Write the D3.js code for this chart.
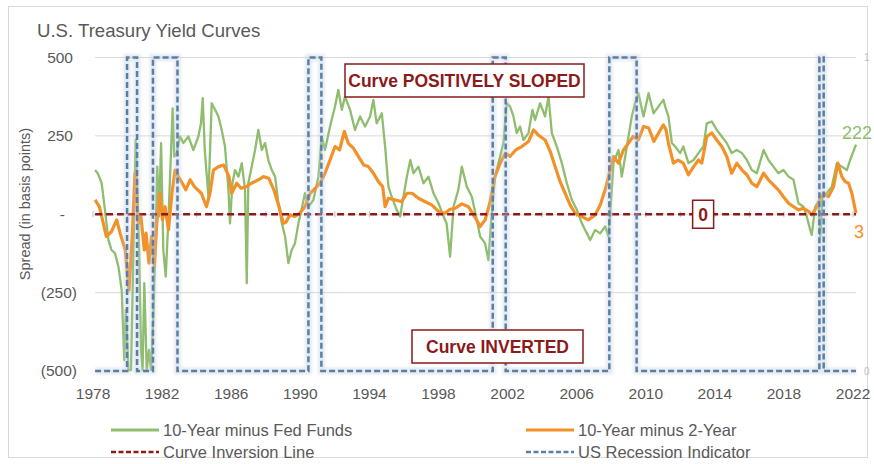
<!DOCTYPE html>
<html>
<head>
<meta charset="utf-8">
<script src="https://cdn.jsdelivr.net/npm/d3@7"></script>
<style>
body { margin: 0; background: #fff; }
text { font-family: "Liberation Sans", Arial, sans-serif; }
</style>
</head>
<body>
<div id="chart"></div>
<script>
// 10-Year minus Fed Funds, [year, bp]
var tenMinusFed = [
  [1978.15,141],[1978.3,131],[1978.53,99],[1978.72,14],[1978.92,-82],[1979.1,-114],[1979.3,-124],[1979.5,-167],
  [1979.69,-242],[1979.84,-465],[1979.93,-305],[1980.08,-497],[1980.23,-497],[1980.37,-114],[1980.5,237],[1980.58,99],
  [1980.7,-114],[1980.81,-433],[1980.9,-497],[1981.0,-220],[1981.14,-497],[1981.27,-433],[1981.39,-497],[1981.52,-327],
  [1981.62,-135],[1981.75,152],[1981.85,-7],[1981.97,227],[1982.1,-114],[1982.24,-199],[1982.4,-7],[1982.55,205],
  [1982.64,338],[1982.73,184],[1982.87,195],[1983.07,248],[1983.26,227],[1983.55,248],[1983.84,205],[1984.13,248],
  [1984.28,290],[1984.38,370],[1984.5,205],[1984.71,56],[1984.9,354],[1985.1,333],[1985.29,312],[1985.48,269],
  [1985.67,216],[1985.87,78],[1985.96,-29],[1986.1,99],[1986.25,141],[1986.45,120],[1986.64,163],[1986.83,78],
  [1986.93,-220],[1987.02,99],[1987.22,152],[1987.41,205],[1987.6,269],[1987.8,205],[1987.99,227],[1988.18,173],
  [1988.38,141],[1988.57,120],[1988.76,35],[1988.96,-29],[1989.15,-71],[1989.34,-156],[1989.53,-114],[1989.72,-93],
  [1989.92,-29],[1990.1,14],[1990.3,67],[1990.5,24],[1990.79,46],[1991.08,120],[1991.27,248],[1991.46,205],
  [1991.75,280],[1992.04,344],[1992.23,397],[1992.43,333],[1992.62,376],[1992.91,333],[1993.2,269],[1993.49,312],
  [1993.78,280],[1994.07,312],[1994.26,365],[1994.45,290],[1994.75,322],[1994.94,216],[1995.13,88],[1995.32,56],
  [1995.61,14],[1995.81,-7],[1996.0,56],[1996.2,120],[1996.4,173],[1996.58,131],[1996.87,152],[1997.16,99],
  [1997.45,120],[1997.74,67],[1998.03,35],[1998.32,-7],[1998.5,-29],[1998.7,-135],[1998.9,24],[1999.18,78],
  [1999.38,152],[1999.67,88],[1999.96,56],[2000.25,-18],[2000.44,-71],[2000.73,-93],[2000.92,-146],[2001.1,-7],
  [2001.3,120],[2001.5,163],[2001.79,227],[2001.98,354],[2002.17,344],[2002.37,312],[2002.56,259],[2002.75,280],
  [2002.95,237],[2003.24,259],[2003.47,333],[2003.62,301],[2003.91,354],[2004.2,312],[2004.4,376],[2004.59,259],
  [2004.88,216],[2005.17,163],[2005.46,99],[2005.75,46],[2006.04,14],[2006.33,-29],[2006.62,-61],[2006.81,-82],
  [2007.1,-50],[2007.39,-61],[2007.68,-39],[2007.87,-71],[2008.02,46],[2008.16,163],[2008.45,205],[2008.64,120],
  [2008.84,184],[2009.03,248],[2009.22,312],[2009.41,354],[2009.6,386],[2009.9,312],[2010.19,386],[2010.48,322],
  [2010.77,344],[2011.05,365],[2011.15,344],[2011.34,312],[2011.54,227],[2011.73,216],[2012.02,195],[2012.2,216],
  [2012.5,163],[2012.8,173],[2013.08,195],[2013.37,216],[2013.56,290],[2013.85,296],[2014.14,269],[2014.43,248],
  [2014.72,227],[2015.0,195],[2015.3,205],[2015.6,195],[2015.88,173],[2016.17,141],[2016.46,131],[2016.85,205],
  [2017.13,173],[2017.42,152],[2017.7,131],[2018.0,141],[2018.3,120],[2018.58,110],[2018.87,35],[2019.16,24],
  [2019.35,-7],[2019.55,-50],[2019.64,-66],[2019.84,24],[2020.03,40],[2020.13,-71],[2020.26,56],[2020.5,67],
  [2020.8,88],[2021.09,163],[2021.38,152],[2021.67,141],[2021.86,173],[2022.2,222]
];

// 10-Year minus 2-Year, [year, bp]
var tenMinusTwo = [
  [1978.15,46],[1978.4,24],[1978.8,-71],[1979.1,-55],[1979.4,-18],[1979.6,-61],[1979.9,-114],[1980.11,-242],
  [1980.3,-71],[1980.46,131],[1980.55,67],[1980.65,-29],[1980.8,-7],[1981.0,-114],[1981.1,-60],[1981.27,-156],
  [1981.42,-71],[1981.58,-167],[1981.72,-29],[1981.9,67],[1982.05,-18],[1982.2,24],[1982.4,-50],[1982.6,67],
  [1982.78,141],[1982.97,120],[1983.2,99],[1983.4,78],[1983.65,110],[1983.9,88],[1984.3,67],[1984.6,24],
  [1984.8,67],[1985.0,141],[1985.3,152],[1985.6,157],[1985.9,120],[1986.06,67],[1986.35,99],[1986.6,83],
  [1986.9,88],[1987.2,99],[1987.6,110],[1987.9,120],[1988.2,115],[1988.5,78],[1988.8,24],[1989.05,-29],
  [1989.2,-25],[1989.44,-2],[1989.7,-7],[1990.0,3],[1990.3,24],[1990.6,67],[1990.9,83],[1991.17,99],
  [1991.46,131],[1991.75,173],[1992.04,216],[1992.3,205],[1992.58,264],[1992.8,227],[1993.1,211],[1993.4,184],
  [1993.7,157],[1993.97,152],[1994.26,131],[1994.55,104],[1994.8,88],[1994.94,24],[1995.13,51],[1995.5,46],
  [1995.9,40],[1996.2,67],[1996.5,67],[1996.87,51],[1997.26,40],[1997.64,30],[1998.03,9],[1998.4,3],
  [1998.7,16],[1999.0,19],[1999.38,33],[1999.76,24],[2000.15,-10],[2000.44,-39],[2000.73,-18],[2001.0,35],
  [2001.3,120],[2001.6,163],[2001.9,195],[2002.17,184],[2002.5,205],[2002.85,216],[2003.24,232],[2003.53,269],
  [2003.8,253],[2004.2,237],[2004.5,200],[2004.78,152],[2005.07,104],[2005.36,67],[2005.65,30],[2005.94,3],
  [2006.3,-7],[2006.7,-18],[2007.1,-2],[2007.4,30],[2007.68,78],[2007.97,141],[2008.16,184],[2008.45,163],
  [2008.74,205],[2009.03,227],[2009.3,248],[2009.6,237],[2009.9,280],[2010.2,275],[2010.5,232],[2010.77,259],
  [2011.05,285],[2011.2,270],[2011.34,227],[2011.63,163],[2011.9,173],[2012.2,163],[2012.5,126],[2012.8,152],
  [2013.08,173],[2013.27,163],[2013.56,248],[2013.85,259],[2014.14,237],[2014.43,216],[2014.72,184],[2015.0,131],
  [2015.3,163],[2015.6,141],[2015.88,126],[2016.17,99],[2016.46,88],[2016.85,131],[2017.13,110],[2017.42,94],
  [2017.7,78],[2018.0,56],[2018.3,35],[2018.58,24],[2018.87,14],[2019.16,19],[2019.45,9],[2019.64,-2],
  [2019.93,24],[2020.13,51],[2020.32,67],[2020.6,56],[2020.9,88],[2021.15,163],[2021.38,120],[2021.57,104],
  [2021.77,99],[2021.96,67],[2022.2,3]
];

// NBER recessions (start, end) -> US Recession Indicator = 1
var recessions = [[1980.0,1980.58],[1981.5,1982.92],[1990.5,1991.25],[2001.17,2001.92],[2007.92,2009.5],[2020.08,2020.33]];

var yTicks = [-500, -250, 0, 250, 500];
var xTickYears = [1978,1982,1986,1990,1994,1998,2002,2006,2010,2014,2018,2022];
var title = "U.S. Treasury Yield Curves";
var yTitle = "Spread (in basis points)";
var legendItems = ["10-Year minus Fed Funds", "10-Year minus 2-Year", "Curve Inversion Line", "US Recession Indicator"];

var w = 874, h = 464;
var green = "#8fbd6e", orange = "#f39129", darkRed = "#8b1a1a", recBlue = "#5b7ea6", grid = "#d9d9d9";
var first = 1978.15, last = 2022.2;

var svg = d3.select("#chart").append("svg").attr("width", w).attr("height", h);

var defs = svg.append("defs");
defs.append("filter").attr("id", "glow").attr("x", "-50%").attr("y", "-5%").attr("width", "200%").attr("height", "110%")
  .append("feGaussianBlur").attr("stdDeviation", 1.6);

// chart border
svg.append("rect").attr("x", 8.5).attr("y", 6.5).attr("width", 859).attr("height", 451)
  .attr("fill", "#fff").attr("stroke", grid);

var x = d3.scaleLinear().domain([1978, 2022.2]).range([92.5, 856]);
var y = d3.scaleLinear().domain([-500, 500]).range([371, 57.5]);
var yRec = d3.scaleLinear().domain([0, 1]).range([371, 57.5]);

svg.append("text").attr("x", 37).attr("y", 37).attr("font-size", 18.6).attr("fill", "#595959").text(title);

// gridlines
svg.append("g").selectAll("line").data([-250, 250, 500]).enter().append("line")
  .attr("x1", x(first)).attr("x2", x(last))
  .attr("y1", d => y(d)).attr("y2", d => y(d))
  .attr("stroke", grid).attr("stroke-width", 1);

// horizontal axis at zero with tick marks
var zeroAxis = svg.append("g").attr("transform", "translate(0," + (y(0) - 3) + ")")
  .call(d3.axisBottom(x).tickValues(d3.range(1978, 2023, 2)).tickFormat("").tickSize(6).tickSizeOuter(0));
zeroAxis.select(".domain").attr("transform", "translate(0,3)").attr("stroke", grid);
zeroAxis.selectAll(".tick line").attr("stroke", "#bfbfbf");

// y axis labels
var fmt = function(d) { return d === 0 ? "-" : d < 0 ? "(" + d3.format(",")(-d) + ")" : d3.format(",")(d); };
var yAxis = svg.append("g").attr("transform", "translate(77,0)")
  .call(d3.axisLeft(y).tickValues(yTicks).tickFormat(fmt).tickSize(0).tickPadding(0));
yAxis.select(".domain").remove();
yAxis.selectAll("text").attr("font-size", 15.5).attr("fill", "#595959")
  .attr("font-family", '"Liberation Sans", Arial, sans-serif')
  .attr("x", d => d > 0 ? -4 : d === 0 ? -12 : 0);

// right axis (recession indicator)
var rAxis = svg.append("g").attr("transform", "translate(864,0)")
  .call(d3.axisRight(yRec).tickValues([0, 1]).tickFormat(d3.format("d")).tickSize(0).tickPadding(0));
rAxis.select(".domain").remove();
rAxis.selectAll("text").attr("font-size", 10).attr("fill", "#bfbfbf").attr("font-family", '"Liberation Sans", Arial, sans-serif');

// x axis labels at bottom
var xAxis = svg.append("g").attr("transform", "translate(0,388)")
  .call(d3.axisBottom(x).tickValues(xTickYears).tickFormat(d3.format("d")).tickSize(0).tickPadding(0));
xAxis.select(".domain").remove();
xAxis.selectAll("text").attr("font-size", 15.5).attr("fill", "#595959").attr("font-family", '"Liberation Sans", Arial, sans-serif');

// y title
svg.append("text").attr("transform", "translate(30,204) rotate(-90)").attr("text-anchor", "middle")
  .attr("font-size", 14.5).attr("fill", "#595959").text(yTitle);

var line = d3.line().x(d => x(d[0])).y(d => y(d[1]));

svg.append("path").datum(tenMinusFed).attr("d", line)
  .attr("fill", "none").attr("stroke", green).attr("stroke-width", 2.3).attr("stroke-linejoin", "round");
svg.append("path").datum(tenMinusTwo).attr("d", line)
  .attr("fill", "none").attr("stroke", orange).attr("stroke-width", 3.2).attr("stroke-linejoin", "round");

// curve inversion line
svg.append("line").attr("x1", x(first)).attr("x2", x(last)).attr("y1", y(0)).attr("y2", y(0))
  .attr("stroke", darkRed).attr("stroke-width", 2.5).attr("stroke-dasharray", "7,4");

// recession indicator as a step series
var recPts = [[first, 0]];
recessions.forEach(function(r) { recPts.push([r[0], 0], [r[0], 1], [r[1], 1], [r[1], 0]); });
recPts.push([last, 0]);
var recLine = d3.line().x(d => x(d[0])).y(d => yRec(d[1]));
svg.append("path").datum(recPts).attr("d", recLine).attr("fill", "none")
  .attr("stroke", "#bccbdc").attr("stroke-width", 7).attr("opacity", 0.4).attr("filter", "url(#glow)");
svg.append("path").datum(recPts).attr("d", recLine).attr("fill", "none")
  .attr("stroke", recBlue).attr("stroke-width", 2.5).attr("stroke-dasharray", "6,3");

// annotation boxes
function box(cx, cy, bw, bh, label, fs) {
  var g = svg.append("g");
  g.append("rect").attr("x", cx - bw / 2).attr("y", cy - bh / 2).attr("width", bw).attr("height", bh)
    .attr("fill", "#fff").attr("stroke", darkRed).attr("stroke-width", 1.5);
  g.append("text").attr("x", cx).attr("y", cy).attr("dy", "0.36em").attr("text-anchor", "middle")
    .attr("font-size", fs).attr("font-weight", "bold").attr("fill", darkRed)
    .attr("font-family", '"Liberation Sans Narrow", "Liberation Sans", Arial, sans-serif').text(label);
}
box(464.5, 80.5, 239, 33, "Curve POSITIVELY SLOPED", 17.5);
box(497.5, 346.5, 171, 33, "Curve INVERTED", 17.5);
box(x(2013.35), y(0), 21, 28, "0", 17.5);

// end labels
var gLast = tenMinusFed[tenMinusFed.length - 1], oLast = tenMinusTwo[tenMinusTwo.length - 1];
svg.append("text").attr("x", x(gLast[0]) - 14).attr("y", y(gLast[1]) - 6).attr("font-size", 18).attr("fill", green).text(gLast[1]);
svg.append("text").attr("x", x(oLast[0]) - 2).attr("y", y(oLast[1]) + 25).attr("font-size", 18).attr("fill", orange).text(oLast[1]);

// legend
var leg = [
  {x: 111, y: 430, color: green, width: 3, dash: null},
  {x: 526, y: 430, color: orange, width: 3, dash: null},
  {x: 111, y: 452, color: darkRed, width: 2.5, dash: "5,2.5"},
  {x: 526, y: 452, color: recBlue, width: 2.5, dash: "5,2.5"}
];
leg.forEach(function(l, i) {
  svg.append("line").attr("x1", l.x).attr("x2", l.x + 48).attr("y1", l.y).attr("y2", l.y)
    .attr("stroke", l.color).attr("stroke-width", l.width).attr("stroke-dasharray", l.dash);
  svg.append("text").attr("x", l.x + 52).attr("y", l.y).attr("dy", "0.36em")
    .attr("font-size", 16.5).attr("fill", "#595959").text(legendItems[i]);
});
</script>
</body>
</html>
